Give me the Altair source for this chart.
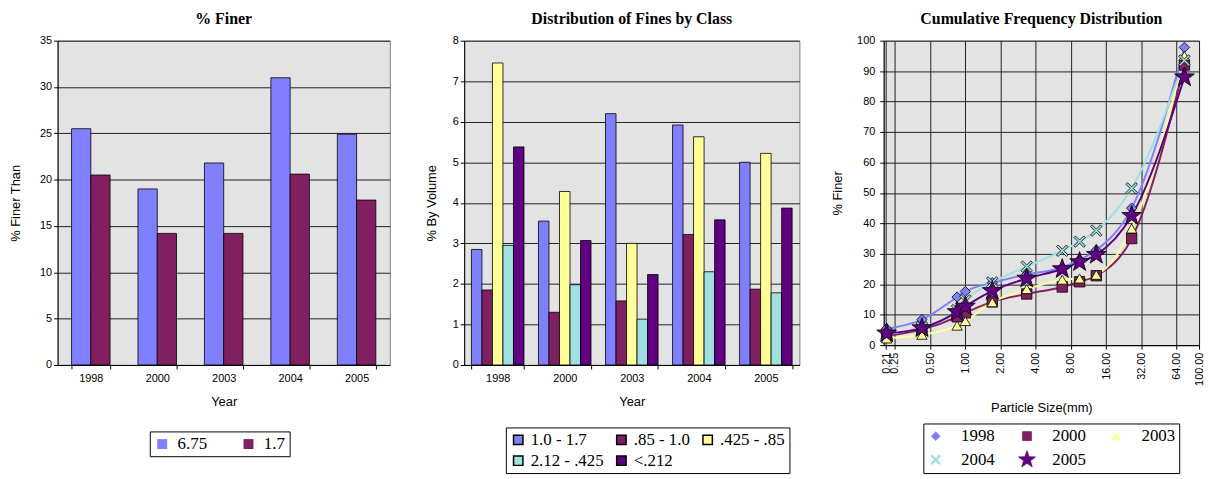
import altair as alt
import pandas as pd

SANS = "Liberation Sans"
SERIF = "Liberation Serif"

# ---- data: % finer (left panel) ----
years = ["1998", "2000", "2003", "2004", "2005"]
finer_sizes = ["6.75", "1.7"]
finer_675 = [25.5, 19.0, 21.8, 31.0, 24.9]
finer_17 = [20.5, 14.2, 14.2, 20.6, 17.8]

# ---- data: distribution of fines by class (middle panel) ----
classes = ["1.0 - 1.7", ".85 - 1.0", ".425 - .85", "2.12 - .425", "<.212"]
class_1998 = [2.85, 1.85, 7.45, 2.95, 5.38]
class_2000 = [3.55, 1.30, 4.28, 1.98, 3.07]
class_2003 = [6.20, 1.58, 3.00, 1.13, 2.23]
class_2004 = [5.92, 3.22, 5.63, 2.30, 3.58]
class_2005 = [5.00, 1.87, 5.22, 1.78, 3.87]

# ---- data: cumulative frequency distribution (right panel) ----
sizes_mm = [0.212, 0.425, 0.85, 1.0, 1.7, 3.35, 6.75, 9.5, 13.2, 26.5, 75.0]
cum_1998 = [5.4, 8.4, 15.8, 17.6, 20.5, 23.2, 25.5, 28.0, 31.2, 45.0, 97.8]
cum_2000 = [3.1, 5.1, 9.3, 10.6, 14.2, 16.8, 19.1, 20.8, 22.8, 35.0, 92.0]
cum_2003 = [2.2, 3.4, 6.4, 7.9, 14.1, 18.4, 21.5, 21.9, 23.1, 38.3, 95.0]
cum_2004 = [3.6, 5.9, 11.5, 14.7, 20.6, 25.8, 31.0, 34.0, 37.6, 51.5, 93.5]
cum_2005 = [3.9, 5.6, 10.9, 12.7, 17.8, 21.9, 25.0, 27.3, 29.7, 42.5, 88.0]
size_ticks = [0.21, 0.25, 0.5, 1, 2, 4, 8, 16, 32, 64, 100]

finer_colors = ["#8080FF", "#802060"]
class_colors = ["#8080FF", "#802060", "#FFFF99", "#A0E0E0", "#600080"]
year_colors = ["#8080FF", "#802060", "#FFFF99", "#A0E0E0", "#600080"]

STAR = ("M0,-2L0.47,-0.65L1.9,-0.62L0.76,0.25L1.18,1.62L0,0.8"
        "L-1.18,1.62L-0.76,0.25L-1.9,-0.62L-0.47,-0.65Z")
XSHAPE = ("M-1.1,-0.8L-0.8,-1.1L0,-0.3L0.8,-1.1L1.1,-0.8L0.3,0L1.1,0.8"
          "L0.8,1.1L0,0.3L-0.8,1.1L-1.1,0.8L-0.3,0Z")
year_shapes = ["diamond", "square", "triangle-up", XSHAPE, STAR]

# ---- tables ----
df1 = pd.DataFrame({
    "Year": years * 2,
    "Size": [finer_sizes[0]] * 5 + [finer_sizes[1]] * 5,
    "Value": finer_675 + finer_17,
})

rows = []
for y, vals in zip(years, [class_1998, class_2000, class_2003, class_2004, class_2005]):
    for c, v in zip(classes, vals):
        rows.append({"Year": y, "Class": c, "Value": v})
df2 = pd.DataFrame(rows)

rows = []
for y, vals in zip(years, [cum_1998, cum_2000, cum_2003, cum_2004, cum_2005]):
    for s, v in zip(sizes_mm, vals):
        rows.append({"Series": y, "Size": s, "Finer": v})
df3 = pd.DataFrame(rows)

title_kw = dict(font=SERIF, fontSize=16, fontWeight="bold", color="black", anchor="middle", offset=8)

# ---- left panel ----
c1 = alt.Chart(df1, title=alt.Title("% Finer", **title_kw)).mark_bar(
    stroke="black", strokeWidth=0.8
).encode(
    x=alt.X("Year:N", sort=years, title="Year",
            scale=alt.Scale(paddingInner=0.42, paddingOuter=0.21),
            axis=alt.Axis(labelAngle=0, tickBand="extent", titlePadding=12, labelPadding=4)),
    xOffset=alt.XOffset("Size:N", sort=finer_sizes, scale=alt.Scale(domain=finer_sizes)),
    y=alt.Y("Value:Q", title="% Finer Than", scale=alt.Scale(domain=[0, 35], nice=False),
            axis=alt.Axis(values=list(range(0, 36, 5)), titlePadding=17)),
    color=alt.Color("Size:N", sort=finer_sizes,
                    scale=alt.Scale(domain=finer_sizes, range=finer_colors),
                    legend=alt.Legend(title=None, orient="none", legendX=93, legendY=394,
                                      direction="horizontal", columns=2, labelOffset=7,
                                      columnPadding=33, symbolSize=100, padding=4,
                                      symbolStrokeWidth=0)),
).properties(width=335, height=327)

# ---- middle panel ----
c2 = alt.Chart(df2, title=alt.Title("Distribution of Fines by Class", **title_kw)).mark_bar(
    stroke="black", strokeWidth=0.8
).encode(
    x=alt.X("Year:N", sort=years, title="Year",
            scale=alt.Scale(paddingInner=0.216, paddingOuter=0.108),
            axis=alt.Axis(labelAngle=0, tickBand="extent", titlePadding=12, labelPadding=4)),
    xOffset=alt.XOffset("Class:N", sort=classes, scale=alt.Scale(domain=classes)),
    y=alt.Y("Value:Q", title="% By Volume", scale=alt.Scale(domain=[0, 8], nice=False),
            axis=alt.Axis(values=list(range(0, 9)), titlePadding=14)),
    color=alt.Color("Class:N", sort=classes,
                    scale=alt.Scale(domain=classes, range=class_colors),
                    legend=alt.Legend(title=None, orient="none", legendX=42, legendY=390,
                                      direction="horizontal", columns=3, gridAlign="none",
                                      labelOffset=4, columnPadding=9, rowPadding=3,
                                      symbolSize=90, padding=4)),
).properties(width=338, height=327)

# ---- right panel ----
xs = alt.X("Size:Q", title="Particle Size(mm)",
           scale=alt.Scale(type="log", domain=[0.2, 100], nice=False),
           axis=alt.Axis(values=size_ticks, format=".2f", labelAngle=-90, labelOverlap=False,
                         labelFlush=False, grid=True, titlePadding=16, labelPadding=3))
ys = alt.Y("Finer:Q", title="% Finer", scale=alt.Scale(domain=[0, 100], nice=False),
           axis=alt.Axis(values=list(range(0, 101, 10)), titlePadding=12, labelPadding=5))
leg3 = alt.Legend(title=None, orient="none", legendX=40, legendY=386,
                  direction="horizontal", columns=3, labelOffset=17,
                  columnPadding=22, rowPadding=4, padding=4,
                  symbolSize=80, symbolStrokeColor="black", symbolStrokeWidth=0.8)
col = alt.Color("Series:N", sort=years, scale=alt.Scale(domain=years, range=year_colors),
                legend=leg3)
shp = alt.Shape("Series:N", sort=years, scale=alt.Scale(domain=years, range=year_shapes),
                legend=leg3)

base3 = alt.Chart(df3, title=alt.Title("Cumulative Frequency Distribution", **title_kw))
lines = base3.mark_line(interpolate="monotone", strokeWidth=2).encode(
    x=xs, y=ys, color=col, detail="Series:N",
)
pts = base3.mark_point(filled=True, stroke="black", strokeWidth=0.8, opacity=1, size=110).encode(
    x=xs, y=ys, color=col, shape=shp,
)
c3 = alt.layer(lines, pts).properties(width=318, height=307)

left_pair = alt.hconcat(c1, c2, spacing=34).resolve_scale(
    color="independent", xOffset="independent"
)
chart = alt.hconcat(left_pair, c3, spacing=31).resolve_scale(
    color="independent", shape="independent", xOffset="independent"
).properties(
    padding={"left": 1, "top": 0, "right": 0, "bottom": 0}
).configure_view(
    fill="#E3E3E3", stroke="#808080", strokeWidth=1
).configure_axis(
    labelFont=SANS, labelFontSize=11, labelColor="black",
    titleFont=SANS, titleFontSize=13, titleFontWeight="normal", titleColor="black",
    domainColor="black", tickColor="black", tickSize=4, gridColor="#202020", gridWidth=1,
).configure_axisY(grid=True).configure_legend(
    labelFont=SERIF, labelFontSize=17, labelColor="black",
    strokeColor="black", strokeWidth=1, fillColor="white", symbolType="square",
)

chart.save("out.html", embed_options={"renderer": "svg", "actions": False})
